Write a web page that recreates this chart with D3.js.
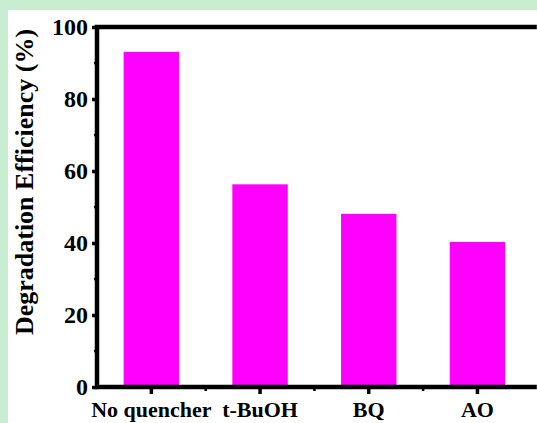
<!DOCTYPE html>
<html>
<head>
<script src="https://d3js.org/d3.v7.min.js"></script>
<style>
  body { margin: 0; background: #c8edd0; }
  svg { display: block; }
</style>
</head>
<body>
<svg width="537" height="423"></svg>
<script>
// data
var categories = ['No quencher', 't-BuOH', 'BQ', 'AO'];
var efficiency = [93.1, 56.3, 48.1, 40.3];
var yTicks = [0, 20, 40, 60, 80, 100];
var yMinorTicks = [10, 30, 50, 70, 90];

var svg = d3.select('svg');
var font = '"Liberation Serif", "Times New Roman", serif';

// white panel over the green page
svg.append('rect').attr('x', 8).attr('y', 10).attr('width', 540).attr('height', 420).attr('fill', '#fff');

// note: "top" is reserved on window, so use plotTop
var plotLeft = 97, plotTop = 27, plotBottom = 387, step = 108.7;

var x = d3.scaleBand().domain(categories).range([plotLeft, plotLeft + step * categories.length]);
var y = d3.scaleLinear().domain([0, 100]).range([plotBottom, plotTop]);

// bars
svg.append('g').selectAll('rect')
  .data(categories)
  .enter().append('rect')
  .attr('x', function (d) { return x(d) + x.bandwidth() * 0.245; })
  .attr('width', x.bandwidth() * 0.51)
  .attr('y', function (d, i) { return y(efficiency[i]); })
  .attr('height', function (d, i) { return plotBottom - y(efficiency[i]); })
  .attr('fill', '#ff00ff');

// y axis
var yAxis = svg.append('g').attr('transform', 'translate(' + plotLeft + ',0)')
  .call(d3.axisLeft(y).tickValues(yTicks).tickSize(5).tickPadding(4));
yAxis.select('.domain').remove();
yAxis.selectAll('.tick line').attr('stroke-width', 3.5);
yAxis.selectAll('text').attr('font-family', font).attr('font-weight', 'bold').attr('font-size', 24).attr('fill', '#000');

svg.append('g').selectAll('line')
  .data(yMinorTicks)
  .enter().append('line')
  .attr('x1', plotLeft - 3).attr('x2', plotLeft)
  .attr('y1', function (d) { return y(d); }).attr('y2', function (d) { return y(d); })
  .attr('stroke', '#000').attr('stroke-width', 2.5);

// x axis
var xAxis = svg.append('g').attr('transform', 'translate(0,' + plotBottom + ')')
  .call(d3.axisBottom(x).tickSize(7).tickPadding(7));
xAxis.select('.domain').remove();
xAxis.selectAll('.tick line').attr('stroke-width', 3.5);
xAxis.selectAll('text').attr('font-family', font).attr('font-weight', 'bold').attr('font-size', 22).attr('fill', '#000');

svg.append('g').selectAll('line')
  .data(categories.slice(1))
  .enter().append('line')
  .attr('x1', function (d) { return x(d); }).attr('x2', function (d) { return x(d); })
  .attr('y1', plotBottom).attr('y2', plotBottom + 4)
  .attr('stroke', '#000').attr('stroke-width', 2.5);

// frame
svg.append('path')
  .attr('d', 'M' + (plotLeft + step * 4 + 5) + ',' + plotTop + 'H' + plotLeft + 'V' + plotBottom + 'H' + (plotLeft + step * 4 + 5))
  .attr('fill', 'none').attr('stroke', '#000').attr('stroke-width', 4.5);

// y label
svg.append('text')
  .attr('transform', 'translate(33,182) rotate(-90)')
  .attr('text-anchor', 'middle')
  .attr('font-family', font).attr('font-weight', 'bold').attr('font-size', 26)
  .text('Degradation Efficiency (%)');
</script>
</body>
</html>
